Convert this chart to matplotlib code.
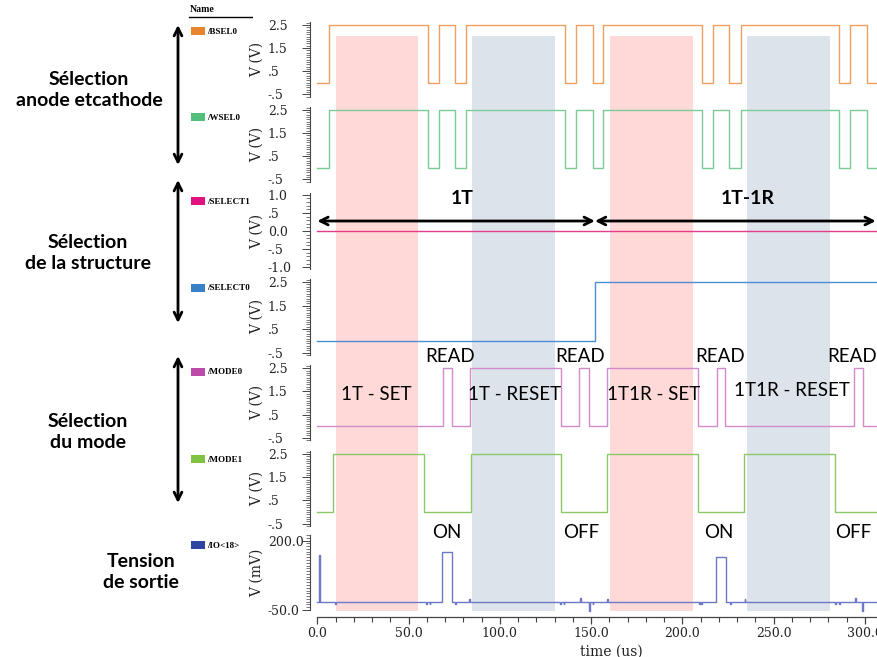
import matplotlib.pyplot as plt
from matplotlib.patches import Rectangle
from matplotlib.ticker import MultipleLocator

W, H = 878, 657
T_MIN, T_MAX = -4.0, 307.2

BSEL0_T = [0, 6.4, 60.7, 66.5, 75.5, 81.5, 135.7, 141.6, 151.0, 156.7,
           210.6, 217.0, 225.8, 232.0, 286.0, 291.9, 301.0, 310]
BSEL0_V = [0, 2.5, 0, 2.5, 0, 2.5, 0, 2.5, 0, 2.5, 0, 2.5, 0, 2.5, 0, 2.5, 0, 0]
WSEL0_T = list(BSEL0_T)
WSEL0_V = list(BSEL0_V)
SELECT1_T = [0, 310]
SELECT1_V = [0, 0]
SELECT0_T = [0, 152.1, 310]
SELECT0_V = [0, 2.5, 2.5]
MODE0_T = [0, 68.7, 73.6, 83.8, 133.4, 143.6, 148.7, 158.6, 208.8, 218.8,
           223.4, 294.1, 299.2, 310]
MODE0_V = [0, 2.5, 0, 2.5, 0, 2.5, 0, 2.5, 0, 2.5, 0, 2.5, 0, 0]
MODE1_T = [0, 8.8, 58.6, 84.1, 133.5, 158.6, 208.8, 233.8, 283.8, 310]
MODE1_V = [0, 2.5, 0, 2.5, 0, 2.5, 0, 2.5, 0, 0]

# sortie IO<18> en mV : niveau de repos + impulsions (debut, fin, niveau)
IO_BASE = -21
IO_START = [1.2, 9.9, 59.5, 61.5, 68.4, 75.4, 83.3, 133.0, 135.0, 143.9,
            148.8, 150.8, 158.8, 209.4, 210.4, 218.7, 226.3, 234.2, 283.9,
            285.9, 294.8, 298.6]
IO_END = [1.7, 10.3, 59.9, 61.9, 73.8, 75.8, 83.7, 133.4, 135.4, 144.3,
          149.3, 151.2, 159.2, 209.8, 210.8, 224.0, 226.7, 234.6, 284.3,
          286.3, 295.2, 299.1]
IO_LEVEL = [148, -28, -28, -28, 159, -28, -12, -28, -28, -6,
            -55, -28, -12, -28, -28, 140, -28, -12, -28,
            -28, -6, -55]

# zones SET / RESET
SET_START = [10.0, 160.4]
SET_END = [55.2, 205.9]
RESET_START = [84.8, 235.5]
RESET_END = [130.2, 281.0]

SERIF = 'DejaVu Serif'
SANS = 'Lato'

fig = plt.figure(figsize=(W / 100, H / 100), dpi=100)


def px_ax(left, top, right, bottom, **kw):
    return fig.add_axes([left / W, 1 - bottom / H, (right - left) / W,
                         (bottom - top) / H], **kw)


# fond : zones colorees
ax_bg = px_ax(310, 0, W, H, zorder=-1)
ax_bg.set_xlim(T_MIN, T_MAX)
ax_bg.set_ylim(0, 1)
ax_bg.axis('off')
for s, e in zip(SET_START, SET_END):
    ax_bg.axvspan(s, e, ymin=1 - 611 / H, ymax=1 - 36 / H, color='#FFD8D8', lw=0)
for s, e in zip(RESET_START, RESET_END):
    ax_bg.axvspan(s, e, ymin=1 - 611 / H, ymax=1 - 36 / H, color='#DCE3EB', lw=0)


def panel(top, bottom, t, v, color, ylim, ticks, labels, minor, ylabel='V (V)'):
    ax = px_ax(310, top, W, bottom)
    ax.set_facecolor('none')
    ax.step(t, v, where='post', color=color, lw=1.0)
    ax.set_xlim(T_MIN, T_MAX)
    ax.set_ylim(*ylim)
    for s in ['top', 'right', 'bottom']:
        ax.spines[s].set_visible(False)
    ax.spines['left'].set_color('#444444')
    ax.spines['left'].set_linewidth(0.8)
    ax.set_xticks([])
    ax.set_yticks(ticks)
    ax.set_yticklabels(labels, ha='left', family=SERIF, fontsize=9)
    ax.yaxis.set_minor_locator(MultipleLocator(minor))
    ax.tick_params(axis='y', which='major', length=5.5, width=0.7,
                   color='#444444', labelcolor='#222222', pad=24.8)
    ax.tick_params(axis='y', which='minor', length=3, width=0.5, color='#444444')
    fig.text(257 / W, 1 - (top + bottom) / 2 / H, ylabel, rotation=90,
             ha='center', va='center', family=SERIF, fontsize=10, color='#222222')
    return ax


v_ticks = [2.5, 1.5, 0.5, -0.5]
v_labels = ['2.5', '1.5', '.5', '-.5']
panel(21.5, 96.6, BSEL0_T, BSEL0_V, '#EFA060', (-0.6, 2.65), v_ticks, v_labels, 0.1)
panel(106.5, 181.6, WSEL0_T, WSEL0_V, '#7CCB96', (-0.6, 2.65), v_ticks, v_labels, 0.1)
panel(193, 269, SELECT1_T, SELECT1_V, '#E63C8C', (-1.05, 1.05),
      [1.0, 0.5, 0.0, -0.5, -1.0], ['1.0', '.5', '0.0', '-.5', '-1.0'], 0.1)
panel(278.5, 355, SELECT0_T, SELECT0_V, '#4C8DD4', (-0.6, 2.65), v_ticks, v_labels, 0.1)
panel(364.8, 440, MODE0_T, MODE0_V, '#D08BCB', (-0.6, 2.65), v_ticks, v_labels, 0.1)
panel(450.5, 526, MODE1_T, MODE1_V, '#8BC86A', (-0.6, 2.65), v_ticks, v_labels, 0.1)

# signal de sortie
io_t, io_v = [0], [IO_BASE]
for s, e, lv in sorted(zip(IO_START, IO_END, IO_LEVEL)):
    io_t += [s, e]
    io_v += [lv, IO_BASE]
io_t.append(310)
io_v.append(IO_BASE)
ax_io = panel(535, 610, io_t, io_v, '#6F78C6', (-50, 220), [200, -50],
              ['200.0', '-50.0'], 10, ylabel='V (mV)')
ax_io.lines[0].set_clip_on(False)
ax_io.spines['bottom'].set_visible(True)
ax_io.spines['bottom'].set_position(('outward', 5))
ax_io.spines['bottom'].set_bounds(0, T_MAX)
ax_io.spines['bottom'].set_color('#444444')
ax_io.spines['bottom'].set_linewidth(0.9)
ax_io.set_xticks([0, 50, 100, 150, 200, 250, 300])
ax_io.set_xticklabels(['0.0', '50.0', '100.0', '150.0', '200.0', '250.0', '300.0'],
                      family=SERIF, fontsize=9)
ax_io.xaxis.set_minor_locator(MultipleLocator(10))
ax_io.tick_params(axis='x', which='major', length=5, width=0.9, color='#444444',
                  labelcolor='#222222', pad=2)
ax_io.tick_params(axis='x', which='minor', length=3.5, width=0.8, color='#444444')
fig.text(611 / W, 1 - 656 / H, 'time (us)', ha='center', va='baseline',
         family=SERIF, fontsize=10, color='#222222')

# annotations sur l'axe du temps
ax_top = px_ax(310, 0, W, H, zorder=5)
ax_top.set_xlim(T_MIN, T_MAX)
ax_top.set_ylim(H, 0)
ax_top.axis('off')
arrow = dict(arrowstyle='<->', lw=2.0, color='black', mutation_scale=14,
             shrinkA=0, shrinkB=0)
ax_top.annotate('', xy=(0, 221), xytext=(152.1, 221), arrowprops=arrow)
ax_top.annotate('', xy=(152.1, 221), xytext=(306.0, 221), arrowprops=arrow)
ax_top.text(79.3, 198, '1T', ha='center', va='center', family=SANS,
            fontweight='bold', fontsize=14)
ax_top.text(236, 198, '1T-1R', ha='center', va='center', family=SANS,
            fontweight='bold', fontsize=14)
for tx in [72.7, 144.0, 220.5, 293.0]:
    ax_top.text(tx, 356, 'READ', ha='center', va='center', family=SANS, fontsize=13.5)
for tx, ty, lab in [(32.2, 394, '1T - SET'), (108.0, 394, '1T - RESET'),
                    (184.0, 394, '1T1R - SET'), (260.0, 391, '1T1R - RESET')]:
    ax_top.text(tx, ty, lab, ha='center', va='center', family=SANS, fontsize=13.5)
for tx, lab in [(70.7, 'ON'), (144.4, 'OFF'), (219.9, 'ON'), (293.9, 'OFF')]:
    ax_top.text(tx, 533, lab, ha='center', va='center', family=SANS, fontsize=13.5)

# colonne de gauche (groupes + fleches)
ax_px = px_ax(0, 0, 185, H, zorder=5)
ax_px.set_xlim(0, 185)
ax_px.set_ylim(H, 0)
ax_px.axis('off')
varrow = dict(arrowstyle='<->', lw=2.0, color='black', mutation_scale=14,
              shrinkA=0, shrinkB=0)
for y0, y1 in [(25, 165), (180, 323), (356, 503)]:
    ax_px.annotate('', xy=(178, y0), xytext=(178, y1), arrowprops=varrow)
for x, y, lab in [(89, 90, 'Sélection\nanode etcathode'),
                  (88, 253, 'Sélection\nde la structure'),
                  (88, 432, 'Sélection\ndu mode'),
                  (141, 572, 'Tension\nde sortie')]:
    ax_px.text(x, y, lab, ha='center', va='center', family=SANS,
               fontweight='bold', fontsize=14, linespacing=1.3)

# colonne Name
ax_leg = px_ax(185, 0, 253, H, zorder=5)
ax_leg.set_xlim(185, 253)
ax_leg.set_ylim(H, 0)
ax_leg.axis('off')
ax_leg.text(190, 10, 'Name', ha='left', va='center', family='Liberation Serif',
            fontweight='bold', fontsize=7)
ax_leg.plot([189, 253], [17, 17], color='black', lw=1)
names = ['/BSEL0', '/WSEL0', '/SELECT1', '/SELECT0', '/MODE0', '/MODE1', '/IO<18>']
swatch = ['#E8852D', '#52C07A', '#E0127F', '#3A80C9', '#BC4AA8', '#80C342', '#2F44A0']
tops = [27, 113, 197, 284, 368, 455, 541]
for name, c, y in zip(names, swatch, tops):
    ax_leg.add_patch(Rectangle((191, y), 14, 8, color=c, lw=0))
    ax_leg.text(207, y + 4.5, name, ha='left', va='center', family='Liberation Serif',
                fontweight='bold', fontsize=6.5, clip_on=True)

fig.savefig('out.png', dpi=100)
